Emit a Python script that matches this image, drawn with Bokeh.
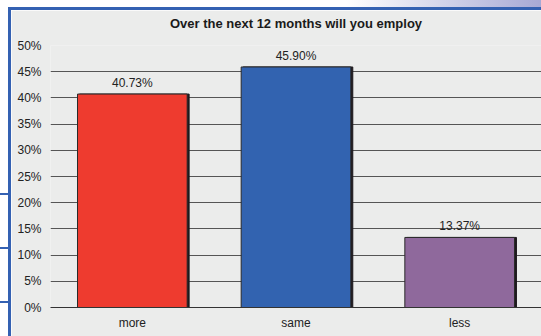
from bokeh.plotting import figure
from bokeh.models import Range1d, FixedTicker, PrintfTickFormatter, ColumnDataSource
from bokeh.layouts import column
from bokeh.transform import dodge
from bokeh.core.properties import value
from bokeh.embed import file_html
from bokeh.resources import INLINE

categories = ["more", "same", "less"]
values = [40.73, 45.90, 13.37]
labels = ["40.73%", "45.90%", "13.37%"]
colors = ["#ee3b2f", "#3263b0", "#8f699c"]
y_ticks = [0, 5, 10, 15, 20, 25, 30, 35, 40, 45, 50]
title_text = "Over the next 12 months will you employ"

src = ColumnDataSource(dict(cat=categories, val=values, lab=labels, col=colors))

FONT = "Liberation Sans"
BG = "#ebeceb"

p = figure(width=530, height=326, x_range=categories, y_range=Range1d(0, 50),
           output_backend="svg", toolbar_location=None,
           min_border_left=39, min_border_right=0, min_border_top=35, min_border_bottom=29,
           border_fill_color=BG, background_fill_color=BG, outline_line_color=None,
           title=title_text + "\n ")
p.margin = (10, 0, 0, 11)

p.title.align = "center"
p.title.text_font = FONT
p.title.text_font_size = "13px"
p.title.text_font_style = "bold"
p.title.text_color = "#1a1a1a"
p.title.standoff = 0

# shadow then bars
p.vbar(x=dodge("cat", 0.012, range=p.x_range), top="val", width=0.67, source=src,
       fill_color="#1e1a1e", line_color="#1e1a1e")
p.vbar(x="cat", top="val", width=0.67, source=src, fill_color="col",
       line_color="#2a2a2a", line_width=1)

p.text(x="cat", y="val", text="lab", source=src, text_align="center",
       text_baseline="bottom", y_offset=-4, text_font=value(FONT),
       text_font_size="12px", text_color="#222222")

p.yaxis.ticker = FixedTicker(ticks=y_ticks)
p.yaxis.formatter = PrintfTickFormatter(format="%d%%")
p.yaxis.axis_line_color = None
p.yaxis.major_tick_line_color = None
p.yaxis.minor_tick_line_color = None
p.yaxis.major_tick_out = 0
p.yaxis.major_label_standoff = 9
p.yaxis.major_label_text_font = FONT
p.yaxis.major_label_text_font_size = "12px"
p.yaxis.major_label_text_color = "#222222"

p.xaxis.axis_line_color = "#333333"
p.xaxis.major_tick_line_color = None
p.xaxis.major_tick_out = 0
p.xaxis.major_label_standoff = 8
p.xaxis.major_label_text_font = FONT
p.xaxis.major_label_text_font_size = "12px"
p.xaxis.major_label_text_color = "#222222"

p.xgrid.grid_line_color = None
p.ygrid.ticker = FixedTicker(ticks=y_ticks)
p.ygrid.grid_line_color = "#555555"
p.ygrid.grid_line_width = 1

blue = "#3461b2"
bg_css = (
    "linear-gradient(to right, #ffffff 0%, #ffffff 64%, #a7a9d5 100%) 0 0 / 100% 7px no-repeat, "
    f"linear-gradient({blue}, {blue}) 8px 7px / 100% 3px no-repeat, "
    f"linear-gradient({blue}, {blue}) 8px 7px / 3px 100% no-repeat, "
    f"linear-gradient({blue}, {blue}) 0 193px / 8px 2px no-repeat, "
    f"linear-gradient({blue}, {blue}) 0 247px / 8px 2px no-repeat, "
    f"linear-gradient({blue}, {blue}) 0 301px / 8px 2px no-repeat, "
    "#ffffff"
)
layout = column(p, width=541, height=336, styles={"background": bg_css})

open("out.html", "w").write(file_html(layout, INLINE))
